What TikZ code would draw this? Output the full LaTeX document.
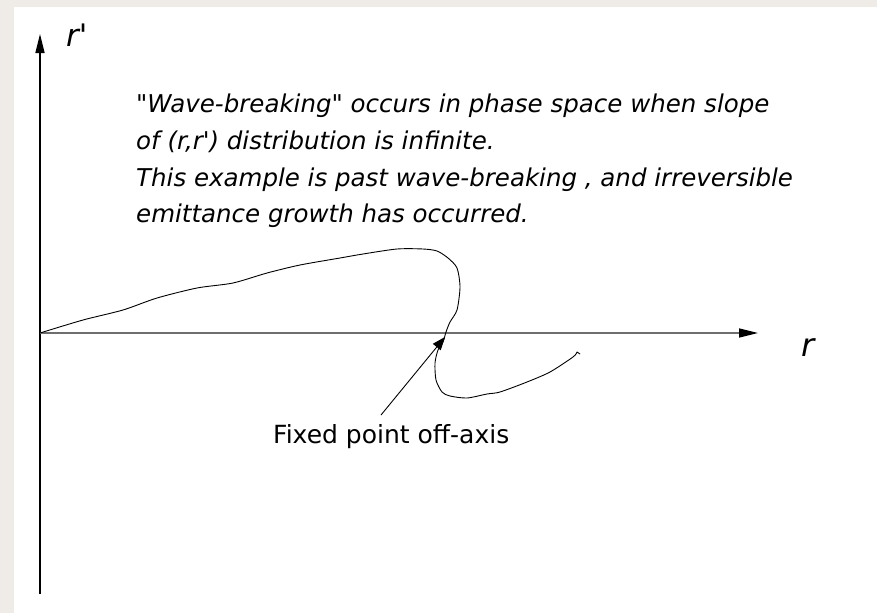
\documentclass[tikz,border=0pt]{standalone}
\usepackage{fontspec}
\setmainfont{DejaVu Sans}[Ligatures=TeXOff]
\usetikzlibrary{arrows.meta}
\definecolor{bgbeige}{HTML}{EFEBE7}
\definecolor{axgray}{HTML}{6E6E6E}
\tikzset{
  lbl/.style={inner sep=0pt, anchor=base west, font=\fontsize{24.5}{30}\selectfont\itshape},
  axlbl/.style={inner sep=0pt, anchor=base west, font=\fontsize{31}{34}\selectfont\itshape},
  axhead/.style={-{Triangle[length=19pt,width=9pt,black]}},
}
\begin{document}
\begin{tikzpicture}[x=1pt,y=-1pt]
\useasboundingbox (0,0) rectangle (877,613);
\fill[bgbeige] (0,0) rectangle (877,613);
\fill[white] (14,7) rectangle (877,613);
\coordinate (o) at (40,333);
\coordinate (ybot) at (40,594);
\coordinate (ytop) at (40,34);
\coordinate (xtip) at (758,333);
\draw[line width=1.4pt, axhead] (ybot) -- (ytop);
\draw[axgray, line width=1.5pt, axhead] (o) -- (xtip);
\node[axlbl] (rp) at (66,46) {r'};
\node[axlbl, font=\fontsize{32}{34}\selectfont\itshape] (r) at (801,356) {r};
\node[lbl] (t1) at (136,112) {"Wave-breaking" occurs in phase space when slope};
\node[lbl] (t2) at (136,149) {of (r,r') distribution is infinite.};
\node[lbl] (t3) at (136,186) {This example is past wave-breaking , and irreversible};
\node[lbl] (t4) at (136,222) {emittance growth has occurred.};
\draw[line width=0.9pt, line join=round] plot[smooth, tension=0.45] coordinates {
 (40,333) (83,320) (123,310) (157,298) (197,288) (233,283) (267,273) (300,265)
 (340,258) (363,254) (397,249) (423,249) (437,251) (448,258) (457,268) (460,287)
 (457,310) (450,322) (446,332) (443,342) (438,350) (435,363) (436,380) (442,392)
 (450,396) (467,398) (487,394) (500,392) (527,382) (550,372) (573,357) (577,352)}
 -- (580,354);
\coordinate (fp) at (445,337);
\node[inner sep=0pt, anchor=base west, font=\fontsize{25}{28}\selectfont] (fl) at (273,443) {Fixed point off-axis};
\coordinate (al) at (381,415);
\draw[line width=0.9pt, -{Triangle[length=13pt,width=10pt]}] (al) -- (fp);
\end{tikzpicture}
\end{document}
